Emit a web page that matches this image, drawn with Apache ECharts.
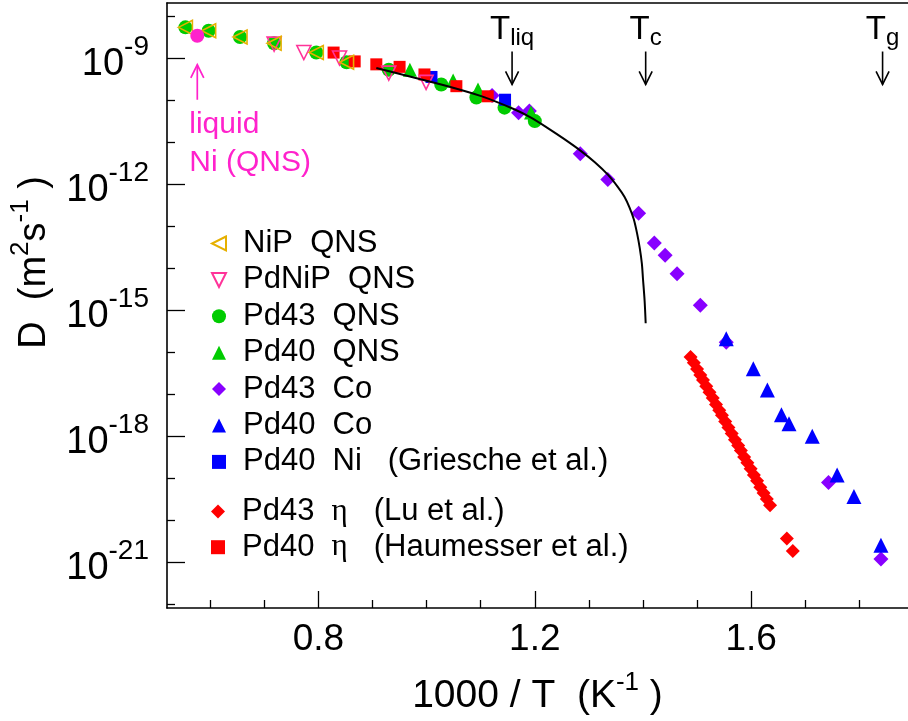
<!DOCTYPE html>
<html><head><meta charset="utf-8">
<script src="https://cdn.jsdelivr.net/npm/echarts@6/dist/echarts.min.js"></script>
<style>html,body{margin:0;padding:0;background:#fff}#c{width:908px;height:721px}</style>
</head><body><div id="c"></div>
<script>
// ---------- data (x = 1000/T in 1/K, D in m^2/s) ----------
const nipX = [0.554, 0.597, 0.655, 0.718, 0.796, 0.852];
const nipD = [5.37e-9, 4.47e-9, 3.16e-9, 2.24e-9, 1.35e-9, 7.94e-10];

const pdnipX = [0.718, 0.773, 0.839, 0.930, 0.999];
const pdnipD = [2.14e-9, 1.35e-9, 1.00e-9, 4.37e-10, 2.63e-10];

const pd43qnsX = [0.554, 0.597, 0.655, 0.718, 0.796, 0.852, 0.930, 1.027, 1.092, 1.144, 1.200];
const pd43qnsD = [5.37e-9, 4.47e-9, 3.16e-9, 2.24e-9, 1.35e-9, 7.94e-10, 5.25e-10, 2.34e-10, 1.15e-10, 6.61e-11, 3.16e-11];

const pd40qnsX = [0.969, 1.049, 1.095, 1.193];
const pd40qnsD = [5.30e-10, 2.92e-10, 1.79e-10, 5.05e-11];

const pd43CoX = [1.121, 1.170, 1.190, 1.284, 1.335, 1.392, 1.421, 1.441, 1.463, 1.506, 1.554, 1.743, 1.840];
const pd43CoD = [1.29e-10, 5.01e-11, 5.50e-11, 5.25e-12, 1.29e-12, 2.04e-13, 3.98e-14, 2.04e-14, 7.41e-15, 1.32e-15, 1.74e-16, 7.94e-20, 1.20e-21];

const pd40CoX = [1.554, 1.604, 1.630, 1.656, 1.670, 1.713, 1.759, 1.790, 1.840];
const pd40CoD = [2.09e-16, 4.07e-17, 1.26e-17, 3.24e-18, 2.00e-18, 1.00e-18, 1.20e-19, 3.72e-20, 2.57e-21];

const pd40NiX = [1.009, 1.145];
const pd40NiD = [3.55e-10, 1.02e-10];

const pd43etaX = [1.488, 1.494, 1.500, 1.506, 1.511, 1.517, 1.523, 1.529, 1.535, 1.541, 1.546, 1.552, 1.558, 1.564,
                  1.570, 1.576, 1.581, 1.587, 1.593, 1.599, 1.605, 1.611, 1.617, 1.623, 1.629, 1.635, 1.666, 1.677];
const pd43etaD = [7.76e-17, 5.62e-17, 3.98e-17, 2.88e-17, 2.19e-17, 1.55e-17, 1.12e-17, 8.13e-18, 5.75e-18, 4.17e-18,
                  3.16e-18, 2.24e-18, 1.62e-18, 1.17e-18, 8.32e-19, 6.03e-19, 4.57e-19, 3.24e-19, 2.34e-19, 1.70e-19,
                  1.20e-19, 8.71e-20, 6.17e-20, 4.47e-20, 3.24e-20, 2.29e-20, 3.72e-21, 1.86e-21];

const pd40etaX = [0.828, 0.867, 0.907, 0.950, 0.996, 1.055, 1.113];
const pd40etaD = [1.35e-9, 8.32e-10, 7.08e-10, 6.17e-10, 4.07e-10, 2.14e-10, 1.23e-10];

const liquidNiX = [0.576];
const liquidNiD = [3.39e-9];

// fitted curve
const curveX = [0.907, 0.978, 1.039, 1.101, 1.162, 1.193, 1.224, 1.254, 1.285, 1.311, 1.335, 1.353, 1.366,
                1.375, 1.383, 1.389, 1.394, 1.398, 1.400, 1.403, 1.405];
const curveD = [5.81e-10, 3.38e-10, 2.14e-10, 1.24e-10, 6.04e-11, 3.81e-11, 2.15e-11, 1.19e-11, 6.18e-12, 3.31e-12,
                1.68e-12, 8.75e-13, 4.95e-13, 2.80e-13, 1.46e-13, 6.84e-14, 3.03e-14, 1.27e-14, 5.62e-15, 1.70e-15, 4.89e-16];

// characteristic temperatures (1000/T)
const markX = [1.158, 1.405, 1.843];
const markSub = ['liq', 'c', 'g'];

// axes
const xMajorTicks = [0.8, 1.2, 1.6];
const xMinorTicks = [0.6, 0.7, 0.9, 1.0, 1.1, 1.3, 1.4, 1.5, 1.7, 1.8];
const yMajorTicks = [1e-21, 1e-18, 1e-15, 1e-12, 1e-9];
const yMinorTicks = [1e-22, 1e-20, 1e-19, 1e-17, 1e-16, 1e-14, 1e-13, 1e-11, 1e-10, 1e-8];

// ---------- chart ----------
const FONT = '"Liberation Sans", Arial, Helvetica, sans-serif';
const X_MIN = 0.52, X_MAX = 1.89;
const Y_MIN = 8.22e-23, Y_MAX = 2.04e-8;
const zip = (xs, ys) => xs.map((x, i) => [x, ys[i]]);

const C = {gold:'#E6B000', pink:'#FF3399', green:'#00CC00', purple:'#8800FF', blue:'#0000FF', red:'#FF0000', magenta:'#FF22CC'};

const N = {
  nip: 'NiP  QNS', pdnip: 'PdNiP  QNS', p43q: 'Pd43  QNS', p40q: 'Pd40  QNS',
  p43co: 'Pd43  Co', p40co: 'Pd40  Co', p40ni: 'Pd40  Ni   (Griesche et al.)',
  p43eta: 'Pd43  η   (Lu et al.)', p40eta: 'Pd40  η   (Haumesser et al.)'
};

function sc(name, xs, ys, symbol, size, color, extra) {
  return Object.assign({
    type: 'scatter', name, data: zip(xs, ys), symbol, symbolSize: size,
    itemStyle: {color, opacity: 1}, silent: true
  }, extra || {});
}
function open(name, xs, ys, rot, color) {
  return sc(name, xs, ys, 'triangle', 14, 'rgba(0,0,0,0)', {
    symbolRotate: rot,
    itemStyle: {color: 'rgba(0,0,0,0)', borderColor: color, borderWidth: 1.6, opacity: 1}
  });
}

const blackRich = (bs, ss, lh) => ({
  b: {fontSize: bs, lineHeight: lh, verticalAlign: 'bottom', fontFamily: FONT, color: '#000'},
  s: {fontSize: ss, lineHeight: ss, verticalAlign: 'top', fontFamily: FONT, color: '#000'}
});

const legendText = {fontSize: 31, lineHeight: 31, fontFamily: FONT, color: '#000', padding: [0, 0, 0, 12],
  rich: {g: {fontFamily: '"Liberation Serif", "DejaVu Serif", serif', fontSize: 31, color: '#000'}}};
const legendFmt = n => n.replace('η', '{g|η}');
const LEFT_TRI = 'path://M10,0 L0,5 L10,10 Z';
const DOWN_TRI = 'path://M0,0 L10,0 L5,10 Z';

const option = {
  animation: false,
  backgroundColor: '#fff',
  grid: {left: 165, right: 0, top: 3, bottom: 108},
  legend: [{
    data: [{name: N.nip, icon: LEFT_TRI}, {name: N.pdnip, icon: DOWN_TRI}, N.p43q, N.p40q, N.p43co, N.p40co, N.p40ni],
    orient: 'vertical', left: 211, top: 228, padding: 0, itemWidth: 14, itemHeight: 14, itemGap: 5.4,
    selectedMode: false, textStyle: legendText, formatter: legendFmt
  }, {
    data: [N.p43eta, N.p40eta],
    orient: 'vertical', left: 211, top: 496, padding: 0, itemWidth: 14, itemHeight: 14, itemGap: 4.7,
    selectedMode: false, textStyle: legendText, formatter: legendFmt
  }],
  xAxis: [{
    type: 'value', min: X_MIN, max: X_MAX, position: 'bottom',
    axisLine: {show: true, lineStyle: {color: '#000', width: 1.6}},
    axisTick: {show: true, inside: true, length: 17, customValues: xMajorTicks, lineStyle: {color: '#000', width: 1.3}},
    axisLabel: {customValues: xMajorTicks, formatter: v => v.toFixed(1), fontSize: 37, fontFamily: FONT, color: '#000', margin: 13},
    splitLine: {show: false},
    name: '{b|1000 / T  (K}{s|-1}{b| )}', nameLocation: 'middle', nameGap: 62,
    nameTextStyle: {rich: blackRich(39, 26, 46)}
  }, {
    type: 'value', min: X_MIN, max: X_MAX, position: 'bottom',
    axisLine: {show: false},
    axisTick: {show: true, inside: true, length: 8, customValues: xMinorTicks, lineStyle: {color: '#000', width: 1.3}},
    axisLabel: {show: false}, splitLine: {show: false}
  }, {
    type: 'value', min: X_MIN, max: X_MAX, position: 'top',
    axisLine: {show: true, lineStyle: {color: '#000', width: 1.6}},
    axisTick: {show: false}, axisLabel: {show: false}, splitLine: {show: false}
  }],
  yAxis: [{
    type: 'log', logBase: 10, min: Y_MIN, max: Y_MAX, position: 'left',
    axisLine: {show: true, lineStyle: {color: '#000', width: 1.6}},
    axisTick: {show: true, inside: true, length: 18, customValues: yMajorTicks, lineStyle: {color: '#000', width: 1.3}},
    axisLabel: {customValues: yMajorTicks, margin: 18,
      formatter: v => '{b|10}{s|' + Math.round(Math.log10(v)) + '}',
      rich: blackRich(38, 28, 50)},
    splitLine: {show: false},
    name: '{b|D  (m}{s|2}{b|s}{s|-1}{b| )}', nameLocation: 'middle', nameGap: 113,
    nameTextStyle: {rich: blackRich(38, 26, 46), padding: [0, 0, 0, 86]}
  }, {
    type: 'log', logBase: 10, min: Y_MIN, max: Y_MAX, position: 'left',
    axisLine: {show: false},
    axisTick: {show: true, inside: true, length: 8, customValues: yMinorTicks, lineStyle: {color: '#000', width: 1.3}},
    axisLabel: {show: false}, splitLine: {show: false}
  }],
  series: [
    sc(N.p43co, pd43CoX, pd43CoD, 'diamond', 15, C.purple),
    sc(N.p43q, pd43qnsX, pd43qnsD, 'circle', 14, C.green),
    sc(N.p40q, pd40qnsX, pd40qnsD, 'triangle', 14, C.green),
    sc(N.p40ni, pd40NiX, pd40NiD, 'rect', 12, C.blue),
    sc(N.p40eta, pd40etaX, pd40etaD, 'rect', 12, C.red),
    sc(N.p43eta, pd43etaX, pd43etaD, 'diamond', 14, C.red),
    sc(N.p40co, pd40CoX, pd40CoD, 'triangle', 15, C.blue),
    open(N.pdnip, pdnipX, pdnipD, 180, C.pink),
    open(N.nip, nipX, nipD, 90, C.gold),
    sc('liquid Ni (QNS)', liquidNiX, liquidNiD, 'circle', 14, C.magenta),
    {
      type: 'line', name: 'fit', data: zip(curveX, curveD), showSymbol: false, symbol: 'none',
      smooth: 0.3, silent: true,
      lineStyle: {color: '#000', width: 2}
    },
    {
      type: 'custom', name: 'marks', silent: true,
      data: markX.map((x, i) => [x, 1.43e-9, i]),
      renderItem: (params, api) => {
        const p = api.coord([api.value(0), 1.43e-9]);
        const q = api.coord([api.value(0), 2.35e-10]);
        const sub = markSub[api.value(2)];
        return {type: 'group', children: [
          {type: 'line', shape: {x1: p[0], y1: p[1], x2: q[0], y2: q[1]}, style: {stroke: '#000', lineWidth: 1.6}},
          {type: 'polyline', shape: {points: [[q[0] - 6.5, q[1] - 13], [q[0], q[1]], [q[0] + 6.5, q[1] - 13]]},
            style: {stroke: '#000', fill: null, lineWidth: 1.6}},
          {type: 'text', x: p[0], y: p[1] - 5, style: {
            text: '{t|T}{s|' + sub + '}', align: 'center', verticalAlign: 'bottom',
            rich: {
              t: {fontSize: 33, lineHeight: 33, verticalAlign: 'top', fontFamily: FONT, fill: '#000', color: '#000'},
              s: {fontSize: 24, lineHeight: 24, padding: [13, 0, 0, 0], verticalAlign: 'top', fontFamily: FONT, fill: '#000', color: '#000'}
            }}}
        ]};
      }
    },
    {
      type: 'custom', name: 'niNote', silent: true,
      data: zip(liquidNiX, liquidNiD),
      renderItem: (params, api) => {
        const p = api.coord([api.value(0), api.value(1)]);
        const top = p[1] + 29, bot = p[1] + 64;
        return {type: 'group', children: [
          {type: 'line', shape: {x1: p[0], y1: top, x2: p[0], y2: bot}, style: {stroke: C.magenta, lineWidth: 1.7}},
          {type: 'polyline', shape: {points: [[p[0] - 6.5, top + 13], [p[0], top], [p[0] + 6.5, top + 13]]},
            style: {stroke: C.magenta, fill: null, lineWidth: 1.7}},
          {type: 'text', x: p[0] - 8, y: p[1] + 70, style: {
            text: 'liquid\nNi (QNS)', fill: C.magenta, fontSize: 30, lineHeight: 38,
            fontFamily: FONT, align: 'left', verticalAlign: 'top'}}
        ]};
      }
    }
  ]
};

const chart = echarts.init(document.getElementById('c'), null, {renderer: 'canvas'});
chart.setOption(option);
</script>
</body></html>
